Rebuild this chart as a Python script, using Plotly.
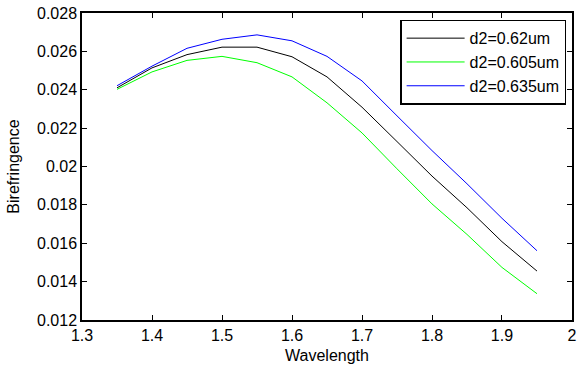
import plotly.graph_objects as go

wavelength = [1.35, 1.40, 1.45, 1.50, 1.55, 1.60, 1.65, 1.70, 1.75, 1.80, 1.85, 1.90, 1.95]
bire_062 = [0.0241, 0.02514, 0.02583, 0.02622, 0.02622, 0.02572, 0.02467, 0.02309, 0.02130, 0.01950, 0.01785, 0.01608, 0.01455]
bire_0605 = [0.02402, 0.02493, 0.02553, 0.02574, 0.02541, 0.02467, 0.02332, 0.02175, 0.01988, 0.01805, 0.01646, 0.01474, 0.01337]
bire_0635 = [0.02421, 0.02523, 0.02616, 0.02663, 0.02686, 0.02655, 0.02574, 0.02446, 0.02264, 0.02083, 0.01910, 0.01730, 0.01561]

x_ticks = [1.3, 1.4, 1.5, 1.6, 1.7, 1.8, 1.9, 2.0]
x_labels = ["1.3", "1.4", "1.5", "1.6", "1.7", "1.8", "1.9", "2"]
y_ticks = [0.012, 0.014, 0.016, 0.018, 0.020, 0.022, 0.024, 0.026, 0.028]
y_labels = ["0.012", "0.014", "0.016", "0.018", "0.02", "0.022", "0.024", "0.026", "0.028"]

series = [
    ("d2=0.62um", bire_062, "#000000"),
    ("d2=0.605um", bire_0605, "#00ff00"),
    ("d2=0.635um", bire_0635, "#0000ff"),
]

fig = go.Figure()
for name, vals, color in series:
    fig.add_trace(go.Scatter(x=wavelength, y=vals, mode="lines", name=name,
                             line=dict(color=color, width=1)))

axis_common = dict(
    showgrid=False, zeroline=False, showline=True, linecolor="black", linewidth=1.5,
    mirror="ticks", ticks="inside", ticklen=5, tickcolor="black", tickwidth=1,
    automargin=False, ticklabeloverflow="allow",
    tickfont=dict(family="Liberation Sans, Arial, sans-serif", size=16, color="black"),
)

fig.update_layout(
    width=579, height=374,
    paper_bgcolor="white", plot_bgcolor="white",
    margin=dict(l=82, r=7, t=13, b=54),
    font=dict(family="Liberation Sans, Arial, sans-serif", size=16, color="black"),
    xaxis=dict(range=[1.3, 2.00001], tickvals=x_ticks, ticktext=x_labels,
               title=dict(text="Wavelength", standoff=7, font=dict(size=16)), **axis_common),
    yaxis=dict(range=[0.012, 0.028], tickvals=y_ticks, ticktext=y_labels,
               title=dict(text="Birefringence", standoff=13, font=dict(size=16)), **axis_common),
    legend=dict(x=0.988, y=0.978, xanchor="right", yanchor="top",
                bgcolor="white", bordercolor="black", borderwidth=1.5,
                font=dict(size=16), tracegroupgap=0, itemwidth=58),
    showlegend=True,
)

# remove the browser's default 8px body margin so the figure sits at the page origin
fig.write_html("out.html", config={"displayModeBar": False},
               post_script="document.body.style.margin='0';")
